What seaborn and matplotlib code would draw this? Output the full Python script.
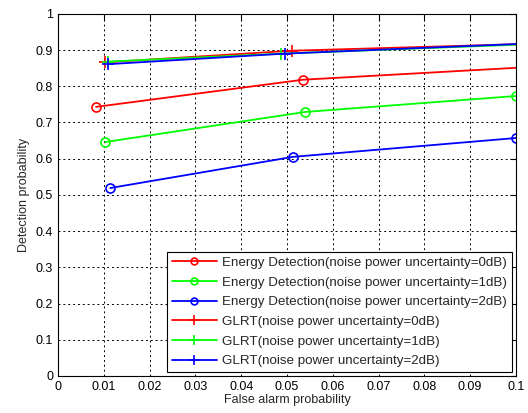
import pandas as pd
import numpy as np
import matplotlib
matplotlib.use("Agg")
import matplotlib.pyplot as plt
import seaborn as sns

# datos
ed0_x = [0.0083, 0.0535, 0.103]
ed0_y = [0.743, 0.818, 0.853]
ed1_x = [0.0103, 0.054, 0.1]
ed1_y = [0.646, 0.729, 0.773]
ed2_x = [0.0114, 0.0513, 0.1]
ed2_y = [0.519, 0.605, 0.657]
glrt0_x = [0.0103, 0.051, 0.103]
glrt0_y = [0.866, 0.898, 0.917]
glrt1_x = [0.0108, 0.0487, 0.103]
glrt1_y = [0.868, 0.890, 0.916]
glrt2_x = [0.011, 0.0495, 0.103]
glrt2_y = [0.861, 0.890, 0.918]

labels = [
    "Energy Detection(noise power uncertainty=0dB)",
    "Energy Detection(noise power uncertainty=1dB)",
    "Energy Detection(noise power uncertainty=2dB)",
    "GLRT(noise power uncertainty=0dB)",
    "GLRT(noise power uncertainty=1dB)",
    "GLRT(noise power uncertainty=2dB)",
]
series = [(ed0_x, ed0_y), (ed1_x, ed1_y), (ed2_x, ed2_y),
          (glrt0_x, glrt0_y), (glrt1_x, glrt1_y), (glrt2_x, glrt2_y)]
colors = ["#ff0000", "#00ff00", "#0000ff", "#ff0000", "#00ff00", "#0000ff"]
markers = ["o", "o", "o", "+", "+", "+"]

sns.set_style("white")
plt.rcParams["font.family"] = ["Liberation Sans", "DejaVu Sans"]

fig = plt.figure(figsize=(5.28, 4.13), dpi=100)
ax = fig.add_axes([0.110, 0.0896, 0.867, 0.877])

for (x, y), lab, c, m in zip(series, labels, colors, markers):
    df = pd.DataFrame({"x": x, "y": y})
    sns.lineplot(data=df, x="x", y="y", ax=ax, color=c, marker=m, label=lab,
                 linewidth=1.3, markersize=6.5 if m == "o" else 9,
                 markerfacecolor="none" if m == "o" else c,
                 markeredgecolor=c, markeredgewidth=1.2)

ax.set_xlim(0, 0.1)
ax.set_ylim(0, 1)
ax.set_xticks(np.arange(0, 0.101, 0.01))
ax.set_xticklabels(["0", "0.01", "0.02", "0.03", "0.04", "0.05", "0.06",
                    "0.07", "0.08", "0.09", "0.1"])
ax.set_yticks(np.arange(0, 1.01, 0.1))
ax.set_yticklabels(["0", "0.1", "0.2", "0.3", "0.4", "0.5", "0.6", "0.7",
                    "0.8", "0.9", "1"])
ax.tick_params(direction="in", top=True, right=True, length=4, labelsize=9,
               colors="black")
ax.grid(True, linestyle=(0, (2, 3)), color="black", linewidth=0.7)
for s in ax.spines.values():
    s.set_color("black")
    s.set_linewidth(0.8)
ax.set_xlabel("False alarm probability", fontsize=9, labelpad=1)
ax.set_ylabel("Detection probability", fontsize=9, labelpad=4)

leg = ax.legend(loc="lower right", fontsize=9.6, frameon=True, fancybox=False,
                edgecolor="black", framealpha=1, handlelength=3.4,
                borderaxespad=0.3, labelspacing=0.55, handletextpad=0.4,
                borderpad=0.35, markerscale=0.75)
leg.get_frame().set_linewidth(0.8)

fig.savefig("out.png", dpi=100)
